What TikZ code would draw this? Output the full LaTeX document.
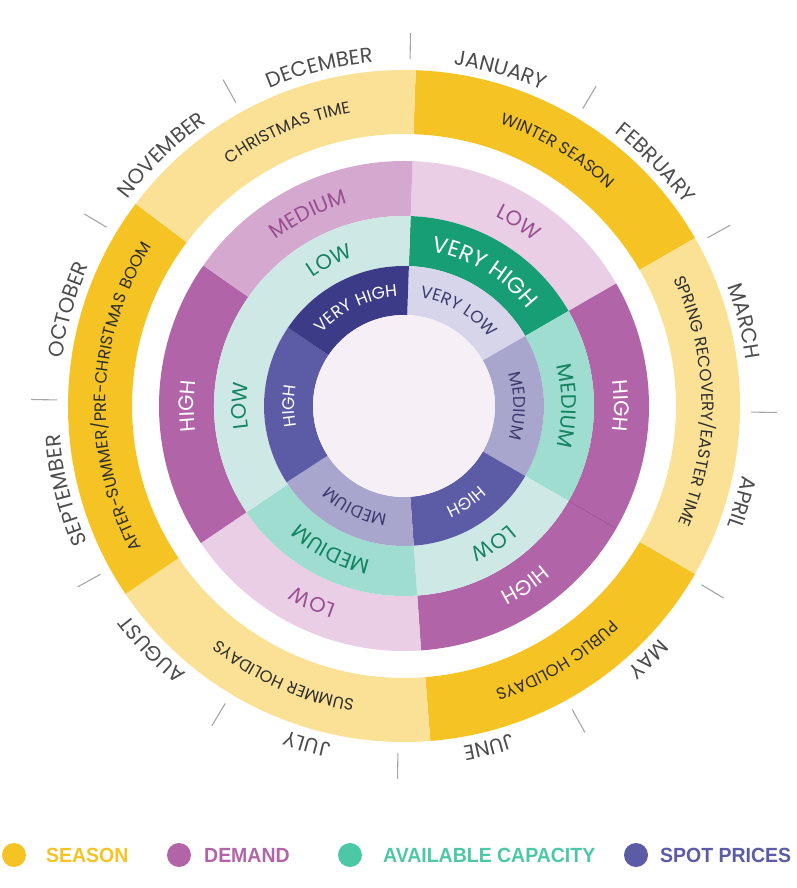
\documentclass[tikz,border=0pt]{standalone}
\usepackage{fontspec}
\usetikzlibrary{decorations.text}
\setmainfont{Poppins}
\newfontfamily\ringfont[LetterSpace=4]{Poppins}
\newfontfamily\keyfont[FakeStretch=0.95]{Liberation Sans Bold}
\definecolor{seasondark}{HTML}{F5C324}
\definecolor{seasonlight}{HTML}{FAE196}
\definecolor{demlow}{HTML}{E9CEE6}
\definecolor{demmed}{HTML}{D5A9CF}
\definecolor{demhigh}{HTML}{B264A8}
\definecolor{caplow}{HTML}{CEE9E5}
\definecolor{capmed}{HTML}{9FDDD1}
\definecolor{capvhigh}{HTML}{189E74}
\definecolor{spotvlow}{HTML}{D7D5EA}
\definecolor{spotmed}{HTML}{A9A6CD}
\definecolor{spothigh}{HTML}{5B5BA6}
\definecolor{spotvhigh}{HTML}{3B3B87}
\definecolor{disc}{HTML}{F6EFF6}
\definecolor{monthgray}{HTML}{4D4D4D}
\definecolor{tickgray}{HTML}{A6A6A6}
\definecolor{seasontext}{HTML}{2E2E2E}
\definecolor{demtext}{HTML}{9A4E91}
\definecolor{captext}{HTML}{138360}
\definecolor{spottext}{HTML}{3B3B70}
\definecolor{capkey}{HTML}{4DC8A7}
\newcommand\mfmt{\ringfont\fontsize{21}{21}\selectfont\color{monthgray}}
\newcommand\sfmt{\ringfont\fontsize{16.5}{16.5}\selectfont\color{seasontext}}
\newcommand\dfmt{\ringfont\fontsize{21}{21}\selectfont\color{demtext}}
\newcommand\cfmt{\ringfont\fontsize{21}{21}\selectfont\color{captext}}
\newcommand\pfmt{\ringfont\fontsize{17}{17}\selectfont\color{spottext}}
\newcommand\wfmt{\ringfont\fontsize{21}{21}\selectfont\color{white}}
\newcommand\wbfmt{\ringfont\fontsize{22.5}{22.5}\selectfont\color{white}}
\newcommand\wsfmt{\ringfont\fontsize{17}{17}\selectfont\color{white}}
\newcommand\ringpart[5]{\fill[#5] (#3:#2pt) arc[start angle=#3, end angle=#4, radius=#2pt] -- (#4:#1pt) arc[start angle=#4, end angle=#3, radius=#1pt] -- cycle;}
\newcommand\arclabel[4]{\path[decorate, decoration={text along path, text align=center, text={|#3|#4}}] ({#2+90}:#1pt) arc[start angle={#2+90}, end angle={#2-90}, radius=#1pt];}
\begin{document}
\begin{tikzpicture}[x=1pt, y=1pt,
    monthtick/.style={tickgray, line width=1.1pt},
    keydot/.style={circle, minimum size=24pt, inner sep=0pt},
    keytext/.style={anchor=west, inner sep=0pt, font=\keyfont\fontsize{20.5}{20.5}\selectfont}]
\useasboundingbox (-404,-482) rectangle (393,406);

\ringpart{272}{336}{88}{30}{seasondark}
\ringpart{272}{336}{30}{-30}{seasonlight}
\ringpart{272}{336}{-30}{-85.5}{seasondark}
\ringpart{272}{336}{-85.5}{-146}{seasonlight}
\ringpart{272}{336}{-146}{-217}{seasondark}
\ringpart{272}{336}{143}{88}{seasonlight}

\ringpart{190}{245}{88}{30}{demlow}
\ringpart{190}{245}{30}{-30}{demhigh}
\ringpart{190}{245}{-30}{-86}{demhigh}
\ringpart{190}{245}{-86}{-146}{demlow}
\ringpart{190}{245}{-146}{-215}{demhigh}
\ringpart{190}{245}{145}{88}{demmed}
\draw[demtext, line width=0.6pt] (-30:190pt) -- (-30:245pt);

\ringpart{140}{190}{88}{30}{capvhigh}
\ringpart{140}{190}{30}{-30}{capmed}
\ringpart{140}{190}{-30}{-86}{caplow}
\ringpart{140}{190}{-86}{-146}{capmed}
\ringpart{140}{190}{-146}{-272}{caplow}

\ringpart{91}{140}{88}{30}{spotvlow}
\ringpart{91}{140}{30}{-30}{spotmed}
\ringpart{91}{140}{-30}{-86}{spothigh}
\ringpart{91}{140}{-86}{-147}{spotmed}
\ringpart{91}{140}{-147}{-214}{spothigh}
\ringpart{91}{140}{146}{88}{spotvhigh}
\fill[disc] (0,0) circle[radius=91pt];

\foreach \a in {89,59,...,-241}
  \draw[monthtick] (\a:347pt) -- (\a:373pt);

\arclabel{345}{74}{\mfmt}{JANUARY}
\arclabel{345}{44}{\mfmt}{FEBRUARY}
\arclabel{345}{14}{\mfmt}{MARCH}
\arclabel{345}{-16}{\mfmt}{APRIL}
\arclabel{345}{-46}{\mfmt}{MAY}
\arclabel{345}{-76}{\mfmt}{JUNE}
\arclabel{345}{-106}{\mfmt}{JULY}
\arclabel{345}{-136}{\mfmt}{AUGUST}
\arclabel{345}{-166}{\mfmt}{SEPTEMBER}
\arclabel{345}{164}{\mfmt}{OCTOBER}
\arclabel{345}{134}{\mfmt}{NOVEMBER}
\arclabel{345}{104}{\mfmt}{DECEMBER}

\arclabel{298}{59}{\sfmt}{WINTER SEASON}
\arclabel{298}{1}{\sfmt}{SPRING RECOVERY/EASTER TIME}
\arclabel{298}{-59}{\sfmt}{PUBLIC HOLIDAYS}
\arclabel{298}{-114}{\sfmt}{SUMMER HOLIDAYS}
\arclabel{298}{178}{\sfmt}{AFTER-SUMMER/PRE-CHRISTMAS BOOM}
\arclabel{298}{113}{\sfmt}{CHRISTMAS TIME}

\arclabel{210}{116.5}{\dfmt}{MEDIUM}
\arclabel{210}{58}{\dfmt}{LOW}
\arclabel{210}{0}{\wfmt}{HIGH}
\arclabel{210}{-56}{\wfmt}{HIGH}
\arclabel{210}{-115}{\dfmt}{LOW}
\arclabel{210}{180}{\wfmt}{HIGH}

\arclabel{157.5}{117}{\cfmt}{LOW}
\arclabel{157}{59}{\wbfmt}{VERY HIGH}
\arclabel{157.5}{0}{\cfmt}{MEDIUM}
\arclabel{157.5}{-57}{\cfmt}{LOW}
\arclabel{157.5}{-117}{\cfmt}{MEDIUM}
\arclabel{157.5}{180}{\cfmt}{LOW}

\arclabel{109.5}{116}{\wsfmt}{VERY HIGH}
\arclabel{109.5}{60}{\pfmt}{VERY LOW}
\arclabel{109.5}{0}{\pfmt}{MEDIUM}
\arclabel{109.5}{-57}{\wsfmt}{HIGH}
\arclabel{109.5}{-116}{\pfmt}{MEDIUM}
\arclabel{109.5}{180}{\wsfmt}{HIGH}

\node[keydot, fill=seasondark] (seasondot) at (-390,-449) {};
\node[keytext, text=seasondark] (seasonkey) at (-358,-449) {SEASON};
\node[keydot, fill=demhigh] (demanddot) at (-225,-449) {};
\node[keytext, text=demhigh] (demandkey) at (-200,-449) {DEMAND};
\node[keydot, fill=capkey] (capdot) at (-54,-449) {};
\node[keytext, text=capkey] (capkey) at (-21,-449) {AVAILABLE CAPACITY};
\node[keydot, fill=spothigh] (spotdot) at (232,-449) {};
\node[keytext, text=spothigh] (spotkey) at (256,-449) {SPOT PRICES};
\end{tikzpicture}
\end{document}
